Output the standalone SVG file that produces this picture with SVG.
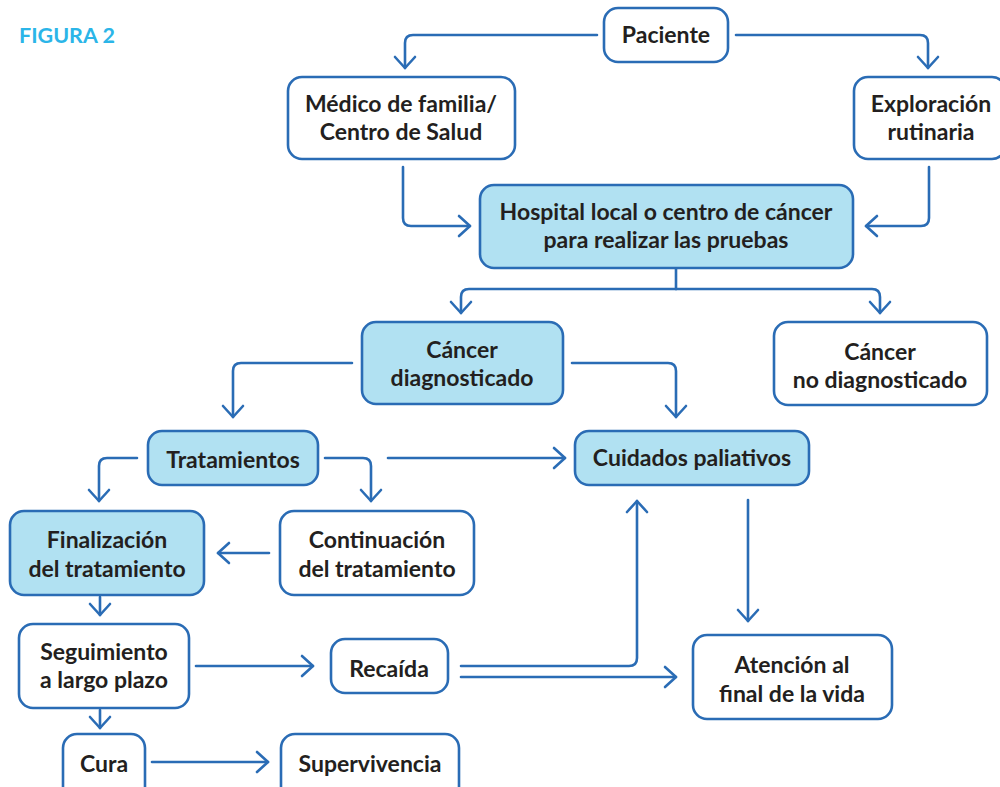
<svg xmlns="http://www.w3.org/2000/svg" width="1000" height="787" viewBox="0 0 1000 787">
<style>
.box{fill:#ffffff;stroke:#2a6cb5;stroke-width:2.6}
.hl{fill:#b1e1f2;stroke:#2a6cb5;stroke-width:2.6}
.t{font-family:Lato,"Noto Sans",sans-serif;font-weight:700;font-size:23px;fill:#231f20;text-anchor:middle}
.c{fill:none;stroke:#2a6cb5;stroke-width:2.6;stroke-linecap:round;stroke-linejoin:round}
.ca{marker-end:url(#ah)}
.title{font-family:Lato,"Noto Sans",sans-serif;font-weight:700;font-size:21.5px;fill:#2bb5e8}
</style>
<defs>
<marker id="ah" viewBox="-15 -15 30 30" markerWidth="30" markerHeight="30" refX="0" refY="0" orient="auto" markerUnits="userSpaceOnUse">
<path d="M-11,-10 L0,0 L-11,10" fill="none" stroke="#2a6cb5" stroke-width="2.6" stroke-linecap="round" stroke-linejoin="round"/>
</marker>
</defs>
<rect width="1000" height="787" fill="#ffffff"/>
<text class="title" x="19" y="43">FIGURA 2</text>
<g id="connectors">
<path class="c ca" d="M597,35 H413 Q405,35 405,43 V68"/>
<path class="c ca" d="M736,35 H920 Q928,35 928,43 V68"/>
<path class="c ca" d="M403,167 V218 Q403,226 411,226 H470"/>
<path class="c ca" d="M929,167 V218 Q929,226 921,226 H866"/>
<path class="c" d="M676,268 V289"/>
<path class="c ca" d="M676,289 H469 Q461,289 461,297 V313"/>
<path class="c ca" d="M676,289 H872 Q880,289 880,297 V313"/>
<path class="c ca" d="M352,363 H241 Q233,363 233,371 V417"/>
<path class="c ca" d="M572,363 H668 Q676,363 676,371 V417"/>
<path class="c ca" d="M137,458 H107 Q99,458 99,466 V501"/>
<path class="c ca" d="M325,458 H363 Q371,458 371,466 V501"/>
<path class="c ca" d="M388,458 H565"/>
<path class="c ca" d="M269,553 H218"/>
<path class="c ca" d="M100,597 V615"/>
<path class="c ca" d="M196,666 H313"/>
<path class="c ca" d="M100,710 V728"/>
<path class="c ca" d="M152,762 H268"/>
<path class="c ca" d="M461,666 H629 Q637,666 637,658 V501"/>
<path class="c ca" d="M461,677 H676"/>
<path class="c ca" d="M748,500 V621"/>
</g>
<g id="paciente"><rect class="box" x="604" y="8" width="124" height="54" rx="14"/><text class="t" x="666" y="43">Paciente</text></g>
<g id="medico"><rect class="box" x="288" y="77" width="227" height="82" rx="14"/><text class="t" x="401" y="112">Médico de familia/</text><text class="t" x="401" y="140">Centro de Salud</text></g>
<g id="exploracion"><rect class="box" x="854" y="77" width="152" height="82" rx="14"/><text class="t" x="931" y="112">Exploración</text><text class="t" x="931" y="140">rutinaria</text></g>
<g id="hospital"><rect class="hl" x="480" y="185" width="373" height="83" rx="14"/><text class="t" x="666" y="220">Hospital local o centro de cáncer</text><text class="t" x="666" y="248">para realizar las pruebas</text></g>
<g id="cancer-diag"><rect class="hl" x="362" y="322" width="201" height="82" rx="14"/><text class="t" x="462" y="358">Cáncer</text><text class="t" x="462" y="386">diagnosticado</text></g>
<g id="cancer-nodiag"><rect class="box" x="774" y="322" width="213" height="83" rx="14"/><text class="t" x="880" y="360">Cáncer</text><text class="t" x="880" y="388">no diagnosticado</text></g>
<g id="tratamientos"><rect class="hl" x="148" y="431" width="170" height="54" rx="14"/><text class="t" x="233" y="468">Tratamientos</text></g>
<g id="cuidados"><rect class="hl" x="575" y="431" width="234" height="54" rx="14"/><text class="t" x="692" y="466">Cuidados paliativos</text></g>
<g id="finalizacion"><rect class="hl" x="10" y="511" width="194" height="84" rx="14"/><text class="t" x="107" y="548">Finalización</text><text class="t" x="107" y="577">del tratamiento</text></g>
<g id="continuacion"><rect class="box" x="280" y="511" width="194" height="84" rx="14"/><text class="t" x="377" y="548">Continuación</text><text class="t" x="377" y="577">del tratamiento</text></g>
<g id="seguimiento"><rect class="box" x="19" y="624" width="170" height="84" rx="14"/><text class="t" x="104" y="660">Seguimiento</text><text class="t" x="104" y="688">a largo plazo</text></g>
<g id="recaida"><rect class="box" x="331" y="639" width="117" height="54" rx="14"/><text class="t" x="389" y="677">Recaída</text></g>
<g id="atencion"><rect class="box" x="693" y="635" width="199" height="84" rx="14"/><text class="t" x="792" y="673">Atención al</text><text class="t" x="792" y="702">final de la vida</text></g>
<g id="cura"><rect class="box" x="63" y="734" width="82" height="70" rx="14"/><text class="t" x="104" y="772">Cura</text></g>
<g id="supervivencia"><rect class="box" x="281" y="734" width="178" height="70" rx="14"/><text class="t" x="370" y="772">Supervivencia</text></g>
</svg>
